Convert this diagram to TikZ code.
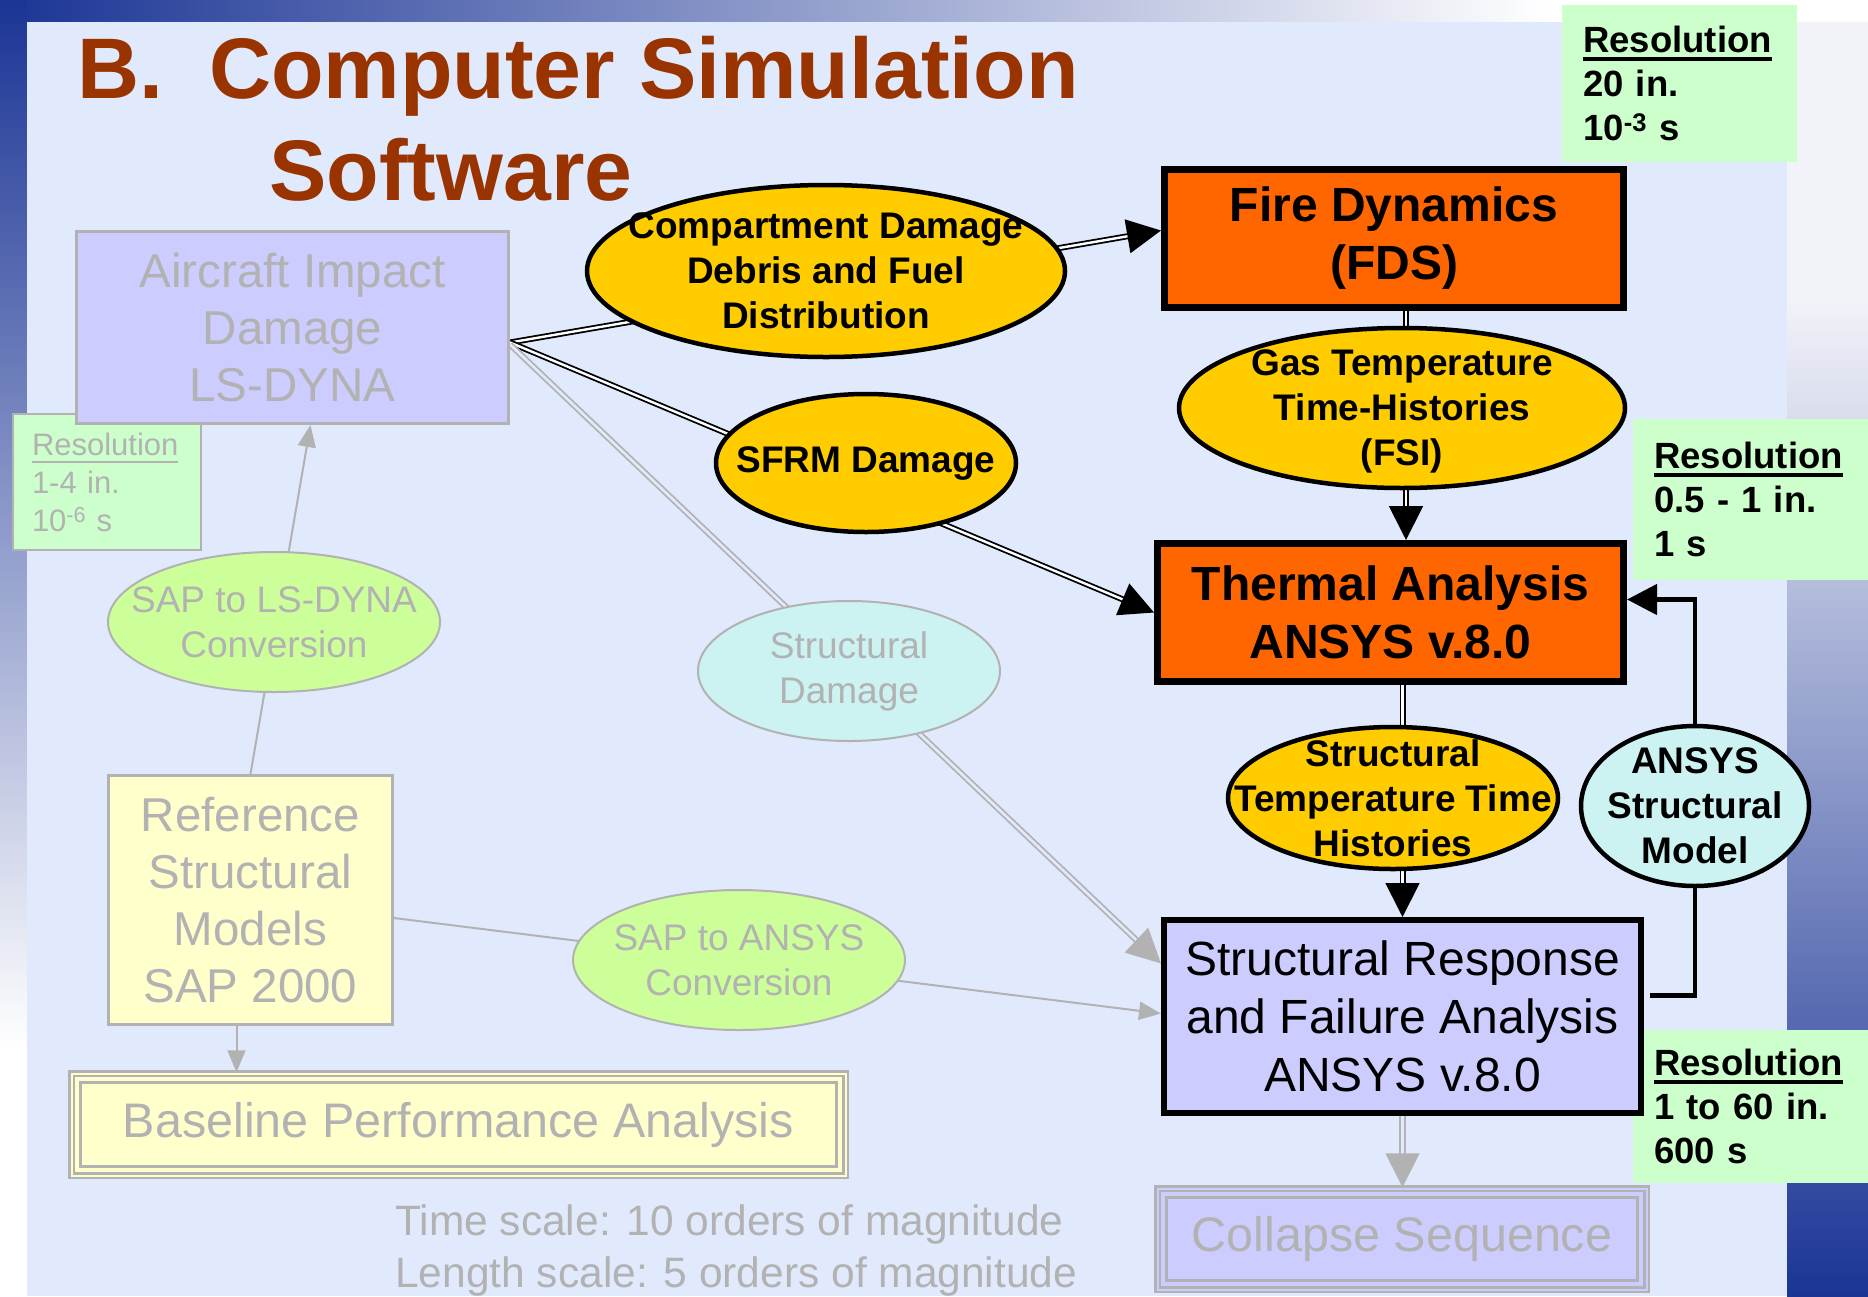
\documentclass[tikz,border=0pt]{standalone}
\usepackage{fontspec}
\setmainfont{Liberation Sans}
\usepackage{tikz}
\usetikzlibrary{arrows.meta,shapes.geometric,calc}
\definecolor{slideblue}{RGB}{27,53,149}
\definecolor{panel}{RGB}{225,234,252}
\definecolor{titlebrown}{RGB}{153,51,0}
\definecolor{fireorange}{RGB}{255,102,0}
\definecolor{datayellow}{RGB}{255,204,0}
\definecolor{lavender}{RGB}{204,204,255}
\definecolor{paleyellow}{RGB}{255,255,204}
\definecolor{convgreen}{RGB}{204,255,153}
\definecolor{resgreen}{RGB}{204,255,204}
\definecolor{palecyan}{RGB}{204,242,242}
\definecolor{fadegray}{RGB}{178,178,178}
\pgfdeclarelayer{back}
\pgfdeclarelayer{links}
\pgfsetlayers{back,links,main}
\newcommand{\ulres}[2][3.5pt]{\setbox0=\hbox{#2}\rlap{\rule[-8pt]{\wd0}{#1}}\box0}
\newcommand{\nodepth}[1]{\raisebox{0pt}[\height][0pt]{#1}}
\tikzset{
    titletext/.style={
        anchor=base west,
        inner sep=0pt,
        text=titlebrown,
        font=\fontsize{86}{100}\selectfont\bfseries
    },
    resbox/.style={
        fill=resgreen,
        anchor=north west,
        align=left,
        text width=193pt,
        inner xsep=21pt,
        inner ysep=0pt,
        font=\fontsize{36.5}{44}\selectfont\bfseries
    },
    fadedres/.style={
        resbox,
        draw=fadegray,
        line width=2pt,
        text=fadegray,
        text width=150pt,
        inner xsep=19pt,
        font=\fontsize{31}{38}\selectfont
    },
    keybox/.style={
        draw=black,
        line width=7pt,
        fill=fireorange,
        align=center,
        inner sep=0pt,
        font=\fontsize{48}{58}\selectfont\bfseries
    },
    simbox/.style={
        keybox,
        line width=6pt,
        fill=lavender,
        font=\fontsize{48}{58}\selectfont
    },
    fadedbox/.style={
        draw=fadegray,
        line width=3pt,
        fill=paleyellow,
        text=fadegray,
        align=center,
        inner sep=0pt,
        font=\fontsize{47.5}{57}\selectfont
    },
    tribox/.style={
        fadedbox,
        line width=2.5pt,
        double=paleyellow,
        double distance=2pt,
        font=\fontsize{48.5}{57}\selectfont
    },
    innerframe/.style={
        draw=fadegray,
        line width=3pt
    },
    dataoval/.style={
        ellipse,
        draw=black,
        line width=4.5pt,
        fill=datayellow,
        align=center,
        inner sep=-3cm,
        font=\fontsize{37}{45}\selectfont\bfseries
    },
    modeloval/.style={
        dataoval,
        fill=palecyan
    },
    fadedoval/.style={
        ellipse,
        draw=fadegray,
        line width=2pt,
        fill=convgreen,
        text=fadegray,
        align=center,
        inner sep=-3cm,
        font=\fontsize{37}{45}\selectfont
    },
    dblarrow/.style={
        -{Triangle[length=34pt,width=34pt]},
        draw=black,
        line width=1.8pt,
        double=white,
        double distance=2.4pt
    },
    graydbl/.style={
        dblarrow,
        draw=fadegray,
        line width=1.8pt,
        double=panel,
        double distance=2.6pt
    },
    grayarrow/.style={
        -{Triangle[length=22pt,width=18pt]},
        draw=fadegray,
        line width=2pt
    },
    backarrow/.style={
        -{Triangle[length=30pt,width=30pt]},
        draw=black,
        line width=4.5pt
    }
}
\begin{document}
\begin{tikzpicture}[x=1pt, y=-1pt]
    \useasboundingbox (0,0) rectangle (1868,1296);
    \begin{pgfonlayer}{back}
        \shade[left color=slideblue, right color=white] (0,0) rectangle (1550,22);
        \fill[white] (1550,0) rectangle (1868,22);
        \shade[top color=slideblue, bottom color=white] (0,0) rectangle (27,1050);
        \fill[white] (0,1050) rectangle (27,1296);
        \fill[white!94!slideblue] (1787,22) rectangle (1868,300);
        \shade[top color=white!94!slideblue, bottom color=slideblue] (1787,300) rectangle (1868,1296);
        \fill[panel] (27,22) rectangle (1787,1296);
    \end{pgfonlayer}

    \node[titletext] (title) at (77,98) {B.\hspace{46pt}Computer Simulation};
    \node[titletext] (titlesw) at (269,200) {Software};

    \node[resbox, minimum height=157pt] (resfds) at (1562,5) {\ulres{Resolution}\\20 in.\\10\textsuperscript{-3} s};
    \node[resbox, minimum height=161pt] (resthermal) at (1633,419) {\ulres{Resolution}\\0.5 - 1 in.\\1 s};
    \node[resbox, minimum height=153pt] (resstruct) at (1633,1030) {\ulres{Resolution}\\1 to 60 in.\\600 s};
    \node[fadedres, minimum height=136pt] (resimpact) at (12,413) {\ulres[2.5pt]{Resolution}\\1-4 in.\\10\textsuperscript{-6} s};

    \node[fadedbox, fill=lavender, minimum width=432pt, minimum height=192pt] (aircraft) at (292.5,327.5) {Aircraft Impact\\Damage\\LS-DYNA};
    \node[fadedbox, minimum width=284pt, minimum height=249pt] (refmodels) at (250.5,900) {Reference\\Structural\\Models\\SAP 2000};
    \node[tribox, minimum width=774pt, minimum height=102pt] (baseline) at (458.5,1124.5) {Baseline Performance Analysis};
    \node[tribox, fill=lavender, double=lavender, minimum width=489pt, minimum height=101pt] (collapse) at (1402,1239) {Collapse Sequence};
    \node[keybox, minimum width=459pt, minimum height=138pt] (fds) at (1394,238.5) {Fire Dynamics\\(FDS)};
    \node[keybox, minimum width=466pt, minimum height=138pt] (thermal) at (1390.5,612.5) {Thermal Analysis\\ANSYS v.8.0};
    \node[simbox, minimum width=477pt, minimum height=193pt] (sr) at (1402.5,1016.5) {Structural Response\\and Failure Analysis\\ANSYS v.8.0};

    \node[dataoval, minimum width=478pt, minimum height=172pt] (compartment) at (826,271) {Compartment Damage\\Debris and Fuel\\Distribution};
    \node[dataoval, minimum width=300pt, minimum height=138pt] (sfrm) at (866,463) {SFRM Damage};
    \node[dataoval, minimum width=446pt, minimum height=160pt] (gastemp) at (1402,408) {Gas Temperature\\Time-Histories\\\nodepth{(FSI)}};
    \node[dataoval, minimum width=330pt, minimum height=142pt] (steeltemp) at (1393,798) {Structural\\Temperature Time\\Histories};
    \node[modeloval, minimum width=228pt, minimum height=160pt] (model) at (1695,806) {ANSYS\\Structural\\Model};
    \node[fadedoval, minimum width=332pt, minimum height=140pt] (saplsdyna) at (274,622) {SAP to LS-DYNA\\Conversion};
    \node[fadedoval, fill=palecyan, minimum width=302pt, minimum height=140pt] (structdamage) at (849,671) {Structural\\Damage};
    \node[fadedoval, minimum width=332pt, minimum height=140pt] (sapansys) at (739,960) {SAP to ANSYS\\Conversion};

    \node[text=fadegray, anchor=north west, align=left, inner sep=0pt, font=\fontsize{42.5}{52}\selectfont] (scales) at (395,1204) {Time scale: 10 orders of magnitude\\Length scale: 5 orders of magnitude};

    \draw[innerframe] ([shift={(10pt,-10pt)}]baseline.north west) rectangle ([shift={(-10pt,10pt)}]baseline.south east);
    \draw[innerframe] ([shift={(10pt,-10pt)}]collapse.north west) rectangle ([shift={(-10pt,10pt)}]collapse.south east);

    \begin{pgfonlayer}{links}
        \draw[dblarrow] ([yshift=-15pt]aircraft.east) -- ([yshift=8pt]fds.west);
        \draw[dblarrow] ([yshift=-15pt]aircraft.east) -- (thermal.west);
        \draw[graydbl] ([yshift=-17pt]aircraft.east) -- ([yshift=53pt]sr.west);
        \draw[grayarrow] (refmodels.north) -- ([xshift=18pt]aircraft.south);
        \draw[grayarrow] ([yshift=-18pt]refmodels.east) -- ([yshift=3pt]sr.west);
        \draw[grayarrow] ([xshift=-14pt]refmodels.south) -- ([xshift=-14pt]refmodels.south |- baseline.north);
        \draw[dblarrow] ([xshift=12pt]fds.south) -- ([xshift=12pt]fds.south |- thermal.north);
        \draw[dblarrow] ([xshift=12pt]thermal.south) -- ([xshift=12pt]thermal.south |- sr.north);
        \draw[graydbl] (sr.south) -- (sr.south |- collapse.north);
        \draw[backarrow] ([xshift=6pt, yshift=21pt]sr.east) -| (model.center) |- ([yshift=13pt]thermal.east);
    \end{pgfonlayer}
\end{tikzpicture}
\end{document}
